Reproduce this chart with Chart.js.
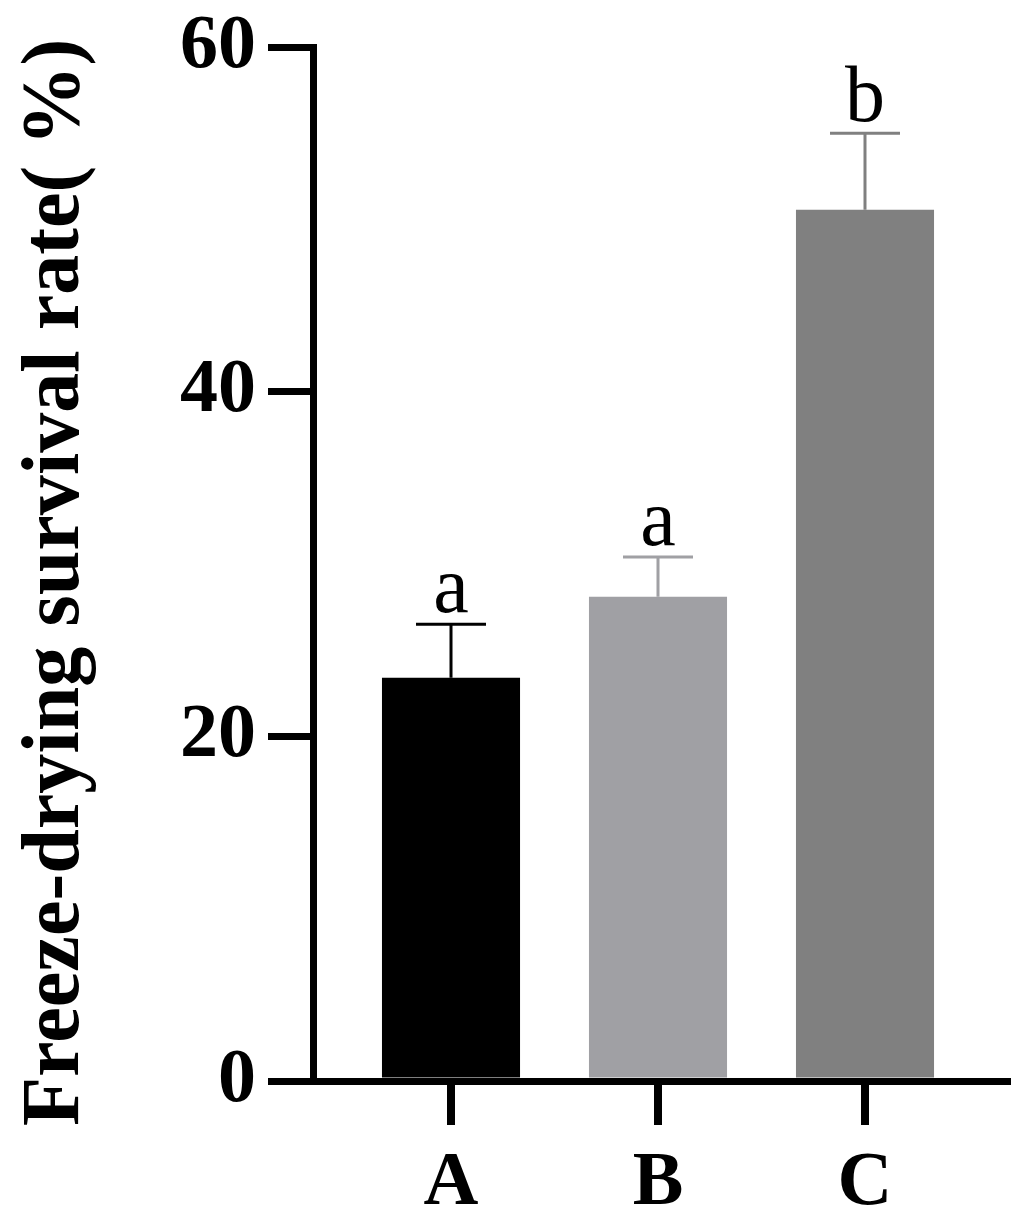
<!DOCTYPE html>
<html>
<head>
<meta charset="utf-8">
<script src="https://cdn.jsdelivr.net/npm/chart.js@4.4.1/dist/chart.umd.min.js"></script>
<style>
  html, body { margin: 0; padding: 0; background: #fff; }
  canvas { display: block; }
</style>
</head>
<body>
<canvas id="chart" width="1025" height="1231"></canvas>
<script>
// values
const categories = ['A', 'B', 'C'];
const means = [23.4, 28.1, 50.55];
const errTops = [26.5, 30.4, 55.0];
const letters = ['a', 'a', 'b'];
const yTicks = [0, 20, 40, 60];
const barColors = ['#000000', '#a0a0a4', '#808080'];
const errColors = ['#000000', '#a0a0a4', '#808080'];
const yTitle = 'Freeze-drying survival rate( %)';

const serif = "'Liberation Serif', 'Times New Roman', serif";

const errorBars = {
  id: 'errorBars',
  afterDatasetsDraw(chart) {
    const { ctx, scales: { x, y } } = chart;
    ctx.save();
    means.forEach((m, i) => {
      const px = x.getPixelForValue(i + 1);
      const y0 = y.getPixelForValue(m);
      const y1 = y.getPixelForValue(errTops[i]);
      ctx.strokeStyle = errColors[i];
      ctx.lineWidth = 3;
      ctx.beginPath();
      ctx.moveTo(px, y0);
      ctx.lineTo(px, y1);
      ctx.moveTo(px - 35, y1);
      ctx.lineTo(px + 35, y1);
      ctx.stroke();
      ctx.fillStyle = '#000';
      ctx.font = '80px ' + serif;
      ctx.textAlign = 'center';
      ctx.textBaseline = 'alphabetic';
      ctx.fillText(letters[i], px, y1 - 12);
    });
    ctx.restore();
  }
};

// axis title squeezed so its ink runs from y=42 to y=1125, as in the figure
const squeezedTitle = {
  id: 'squeezedTitle',
  afterDraw(chart) {
    const { ctx } = chart;
    ctx.save();
    ctx.font = 'bold 82px ' + serif;
    ctx.textAlign = 'left';
    ctx.textBaseline = 'middle';
    const m = ctx.measureText(yTitle);
    const inkW = m.actualBoundingBoxRight + m.actualBoundingBoxLeft;
    const k = 1083 / inkW;
    ctx.translate(57, 1125);
    ctx.rotate(-Math.PI / 2);
    ctx.scale(k, 1);
    ctx.fillStyle = '#000';
    ctx.fillText(yTitle, m.actualBoundingBoxLeft, 0);
    ctx.restore();
  }
};

function draw() {
  new Chart(document.getElementById('chart'), {
    type: 'bar',
    data: {
      datasets: [{
        data: means.map((v, i) => ({ x: i + 1, y: v })),
        backgroundColor: barColors,
        borderWidth: 0,
        categoryPercentage: 1,
        barPercentage: 0.667
      }]
    },
    options: {
      responsive: false,
      animation: false,
      layout: { padding: { top: 47, right: 18, left: 0, bottom: 0 } },
      plugins: { legend: { display: false }, tooltip: { enabled: false } },
      scales: {
        x: {
          type: 'linear',
          min: 0.3333,
          max: 3.686,
          offset: false,
          afterFit(s) { s.height = 150; s.paddingLeft = 0; s.paddingRight = 0; },
          afterBuildTicks(s) { s.ticks = categories.map((c, i) => ({ value: i + 1 })); },
          grid: { offset: false, drawOnChartArea: false, drawTicks: true, tickLength: 44, lineWidth: 8, color: '#000' },
          border: { display: true, width: 7, color: '#000' },
          ticks: {
            callback: v => categories[v - 1],
            color: '#000',
            font: { family: serif, size: 76, weight: 'bold' },
            padding: 14,
            maxRotation: 0,
            autoSkip: false
          }
        },
        y: {
          min: 0,
          max: 60,
          afterFit(s) { s.width = 313; s.paddingTop = 0; s.paddingBottom = 0; },
          afterBuildTicks(s) { s.ticks = yTicks.map(v => ({ value: v })); },
          grid: { drawOnChartArea: false, drawTicks: true, tickLength: 45, lineWidth: 7, color: '#000' },
          border: { display: true, width: 7, color: '#000' },
          ticks: {
            color: '#000',
            font: { family: serif, size: 76, weight: 'bold' },
            padding: 12
          }
        }
      }
    },
    plugins: [errorBars, squeezedTitle]
  });
}

Promise.all([
  document.fonts.load("bold 76px 'Liberation Serif'"),
  document.fonts.load("80px 'Liberation Serif'")
]).then(draw, draw);
</script>
</body>
</html>
